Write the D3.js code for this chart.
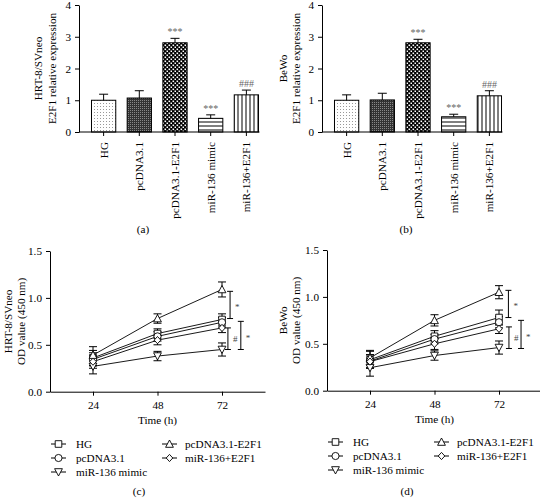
<!DOCTYPE html>
<html><head><meta charset="utf-8">
<script src="https://cdn.jsdelivr.net/npm/d3@7"></script>
<style>
body{margin:0;background:#fff;}
svg{display:block;font-family:"Liberation Serif","Times New Roman",serif;}
</style></head>
<body>
<svg id="chart" width="540" height="498"></svg>
<script>
// ---------- DATA ----------
const barCategories = ["HG","pcDNA3.1","pcDNA3.1-E2F1","miR-136 mimic","miR-136+E2F1"];
const barValuesA = [1.00, 1.07, 2.81, 0.43, 1.17];
const barErrorsA = [0.19, 0.23, 0.14, 0.11, 0.15];
const barSigA    = ["", "", "***", "***", "###"];
const barValuesB = [1.00, 1.01, 2.81, 0.48, 1.14];
const barErrorsB = [0.17, 0.21, 0.11, 0.08, 0.16];
const barSigB    = ["", "", "***", "***", "###"];
const barTicks   = [0,1,2,3,4];

const timePoints = [24, 48, 72];
const seriesNames = ["HG","pcDNA3.1","pcDNA3.1-E2F1","miR-136 mimic","miR-136+E2F1"];
const seriesMarkers = ["square","circle","triangleUp","triangleDown","diamond"];
const odC_HG     = [0.36, 0.62, 0.77];
const odC_pc     = [0.345,0.59, 0.74];
const odC_E2F1   = [0.39, 0.78, 1.09];
const odC_mimic  = [0.27, 0.38, 0.45];
const odC_miR    = [0.32, 0.55, 0.68];
const errC_HG    = [0.08, 0.05, 0.06];
const errC_pc    = [0.07, 0.05, 0.05];
const errC_E2F1  = [0.09, 0.05, 0.08];
const errC_mimic = [0.08, 0.05, 0.07];
const errC_miR   = [0.07, 0.05, 0.05];
const odD_HG     = [0.33, 0.58, 0.78];
const odD_pc     = [0.315,0.55, 0.73];
const odD_E2F1   = [0.35, 0.75, 1.05];
const odD_mimic  = [0.245,0.375,0.46];
const odD_miR    = [0.31, 0.50, 0.66];
const errD_HG    = [0.09, 0.06, 0.08];
const errD_pc    = [0.07, 0.05, 0.06];
const errD_E2F1  = [0.08, 0.06, 0.07];
const errD_mimic = [0.09, 0.05, 0.07];
const errD_miR   = [0.07, 0.06, 0.05];
const odTicks = [0, 0.5, 1.0, 1.5];
// significance brackets: [time position, from value, to value, label]
const bracketsC = [[75, 1.07, 0.78, "*"], [74.2, 0.68, 0.45, "#"], [79, 0.75, 0.45, "*"]];
const bracketsD = [[75.5, 1.07, 0.78, "*"], [75.7, 0.68, 0.45, "#"], [80.2, 0.75, 0.45, "*"]];

// ---------- DRAW ----------
const svg = d3.select("#chart");
const defs = svg.append("defs");
(function(){
  let p = defs.append("pattern").attr("id","pDots").attr("patternUnits","userSpaceOnUse").attr("width",3).attr("height",3);
  p.append("rect").attr("width",3).attr("height",3).attr("fill","#fff");
  p.append("rect").attr("x",1).attr("y",1).attr("width",1).attr("height",1).attr("fill","#999");
  p = defs.append("pattern").attr("id","pDark").attr("patternUnits","userSpaceOnUse").attr("width",2).attr("height",2);
  p.append("rect").attr("width",2).attr("height",2).attr("fill","#333");
  p.append("rect").attr("x",0).attr("y",0).attr("width",1).attr("height",1).attr("fill","#888");
  p = defs.append("pattern").attr("id","pCheck").attr("patternUnits","userSpaceOnUse").attr("width",4).attr("height",4);
  p.append("rect").attr("width",4).attr("height",4).attr("fill","#000");
  p.append("rect").attr("x",0.5).attr("y",0.5).attr("width",1.6).attr("height",1.6).attr("fill","#fff");
  p.append("rect").attr("x",2.5).attr("y",2.5).attr("width",1.6).attr("height",1.6).attr("fill","#fff");
  p = defs.append("pattern").attr("id","pHoriz").attr("patternUnits","userSpaceOnUse").attr("width",4).attr("height",4);
  p.append("rect").attr("width",4).attr("height",4).attr("fill","#fff");
  p.append("rect").attr("y",1.5).attr("width",4).attr("height",1).attr("fill","#000");
  p = defs.append("pattern").attr("id","pVert").attr("patternUnits","userSpaceOnUse").attr("width",4).attr("height",4);
  p.append("rect").attr("width",4).attr("height",4).attr("fill","#fff");
  p.append("rect").attr("x",1.5).attr("width",1).attr("height",4).attr("fill","#000");
})();
const barFills = ["url(#pDots)","url(#pDark)","url(#pCheck)","url(#pHoriz)","url(#pVert)"];
const FS = 11.2;
const FF = "Liberation Serif";

function barPanel(axX, vals, errs, sig, lab1, lab2, lab1x, lab2x, panelLabel, plx){
  const g = svg.append("g");
  const y = d3.scaleLinear().domain([0,4]).range([132,5]);
  const x = d3.scaleBand().domain(barCategories).range([axX, axX+192]).paddingInner(0.32).paddingOuter(0.35);
  g.selectAll("rect.bar").data(barCategories).join("rect")
    .attr("x", d=>x(d)).attr("width", x.bandwidth())
    .attr("y", (d,i)=>y(vals[i])).attr("height", (d,i)=>y(0)-y(vals[i]))
    .attr("fill", (d,i)=>barFills[i]).attr("stroke","#000").attr("stroke-width",1);
  barCategories.forEach((c,i)=>{
    const cx = x(c)+x.bandwidth()/2;
    g.append("line").attr("x1",cx).attr("x2",cx).attr("y1",y(vals[i])).attr("y2",y(vals[i]+errs[i])).attr("stroke","#000");
    g.append("line").attr("x1",cx-4.5).attr("x2",cx+4.5).attr("y1",y(vals[i]+errs[i])).attr("y2",y(vals[i]+errs[i])).attr("stroke","#000");
    if (sig[i]) g.append("text").attr("x",cx).attr("y",y(vals[i]+errs[i])-3).attr("text-anchor","middle")
      .attr("font-size",10).attr("fill","#666").text(sig[i]);
  });
  const ya = g.append("g").attr("transform",`translate(${axX},0)`).call(d3.axisLeft(y).tickValues(barTicks).tickFormat(d3.format("d")).tickSize(4).tickSizeOuter(0).tickPadding(4));
  ya.selectAll("text").attr("font-size",FS).attr("font-family",FF).attr("fill","#000");
  ya.selectAll("line,path").attr("stroke","#000");
  const xa = g.append("g").attr("transform",`translate(0,${y(0)})`).call(d3.axisBottom(x).tickSize(4).tickSizeOuter(0));
  xa.select(".domain").remove();
  xa.selectAll("line").attr("stroke","#000");
  xa.selectAll("text").attr("font-size",FS).attr("font-family",FF).attr("fill","#000")
    .attr("transform","rotate(-90)").attr("text-anchor","end").attr("x",-10).attr("y",0).attr("dy","0.35em");
  const lastEnd = x(barCategories[barCategories.length-1]) + x.bandwidth() + 1;
  g.append("line").attr("x1",axX).attr("x2",lastEnd).attr("y1",y(0)).attr("y2",y(0)).attr("stroke","#000");
  const cy = (y(0)+y(4))/2;
  [[lab1,lab1x],[lab2,lab2x]].forEach(([t,lx])=>{
    g.append("text").attr("transform",`translate(${lx},${cy}) rotate(-90)`).attr("text-anchor","middle")
      .attr("dy","0.35em").attr("font-size",FS).text(t);
  });
  g.append("text").attr("x",plx).attr("y",229).attr("text-anchor","middle").attr("dy","0.35em").attr("font-size",FS).text(panelLabel);
}

barPanel(79, barValuesA, barErrorsA, barSigA, "HRT-8/SVneo", "E2F1 relative expression", 38, 52, "(a)", 143);
barPanel(322, barValuesB, barErrorsB, barSigB, "BeWo", "E2F1 relative expression", 283, 296, "(b)", 406);

function markerPath(type){
  const s = 3.3;
  switch(type){
    case "square": return `M${-s},${-s}H${s}V${s}H${-s}Z`;
    case "circle": return d3.symbol(d3.symbolCircle, 40)();
    case "triangleUp": return `M0,${-s-0.7}L${s+0.6},${s}L${-s-0.6},${s}Z`;
    case "triangleDown": return `M0,${s+0.7}L${s+0.6},${-s}L${-s-0.6},${-s}Z`;
    case "diamond": return `M0,${-s-0.3}L${s},0L0,${s+0.3}L${-s},0Z`;
  }
}

function linePanel(axX, y0, seriesVals, seriesErrs, brackets, lab1, lab2, lab1x, lab2x, panelLabel, plx, legY, col2dx){
  const g = svg.append("g");
  const w = 215;
  const x = d3.scaleLinear().domain([8,88]).range([axX, axX+w]);
  const y = d3.scaleLinear().domain([0,1.5]).range([y0, y0-140.7]);
  const line = d3.line().x((d,i)=>x(timePoints[i])).y(d=>y(d));
  seriesVals.forEach(v=>{
    g.append("path").attr("d",line(v)).attr("fill","none").attr("stroke","#000").attr("stroke-width",0.9);
  });
  seriesVals.forEach((v,k)=>{
    v.forEach((val,i)=>{
      const cx = x(timePoints[i]), e = seriesErrs[k][i];
      g.append("line").attr("x1",cx).attr("x2",cx).attr("y1",y(val-e)).attr("y2",y(val+e)).attr("stroke","#000");
      [val-e,val+e].forEach(ev=>g.append("line").attr("x1",cx-4).attr("x2",cx+4).attr("y1",y(ev)).attr("y2",y(ev)).attr("stroke","#000"));
    });
  });
  seriesVals.forEach((v,k)=>{
    v.forEach((val,i)=>{
      g.append("path").attr("d",markerPath(seriesMarkers[k])).attr("transform",`translate(${x(timePoints[i])},${y(val)})`)
        .attr("fill","#fff").attr("stroke","#000").attr("stroke-width",0.9);
    });
  });
  brackets.forEach(([t,a,b,lab])=>{
    const bx = x(t);
    g.append("line").attr("x1",bx).attr("x2",bx).attr("y1",y(a)).attr("y2",y(b)).attr("stroke","#000");
    [a,b].forEach(v=>g.append("line").attr("x1",bx-3).attr("x2",bx+3).attr("y1",y(v)).attr("y2",y(v)).attr("stroke","#000"));
    g.append("text").attr("x",bx+5).attr("y",(y(a)+y(b))/2).attr("dy",lab==="*"?"0.6em":"0.35em")
      .attr("font-size",9).attr("fill","#444").text(lab);
  });
  const ya = g.append("g").attr("transform",`translate(${axX},0)`).call(d3.axisLeft(y).tickValues(odTicks).tickFormat(d3.format(".1f")).tickSize(4).tickSizeOuter(0).tickPadding(4));
  ya.selectAll("text").attr("font-size",FS).attr("font-family",FF).attr("fill","#000");
  ya.selectAll("line,path").attr("stroke","#000");
  const xa = g.append("g").attr("transform",`translate(0,${y0})`).call(d3.axisBottom(x).tickValues(timePoints).tickSize(4).tickSizeOuter(0).tickPadding(5));
  xa.selectAll("text").attr("font-size",FS).attr("font-family",FF).attr("fill","#000");
  xa.selectAll("line,path").attr("stroke","#000");
  g.append("text").attr("x",x(48)).attr("y",y0+28).attr("text-anchor","middle").attr("dy","0.35em").attr("font-size",FS).text("Time (h)");
  const cy = (y(0)+y(1.5))/2;
  [[lab1,lab1x],[lab2,lab2x]].forEach(([t,lx])=>{
    g.append("text").attr("transform",`translate(${lx},${cy}) rotate(-90)`).attr("text-anchor","middle")
      .attr("dy","0.35em").attr("font-size",FS).text(t);
  });
  const legPos = [[0,0],[1,0],[0,1],[2,0],[1,1]]; // [row, col] per series
  seriesNames.forEach((n,k)=>{
    const [r,c] = legPos[k];
    const lx = axX + 1 + c*col2dx, ly = legY + r*14;
    g.append("line").attr("x1",lx).attr("x2",lx+15).attr("y1",ly).attr("y2",ly).attr("stroke","#000");
    g.append("path").attr("d",markerPath(seriesMarkers[k])).attr("transform",`translate(${lx+7.5},${ly})`)
      .attr("fill","#fff").attr("stroke","#000").attr("stroke-width",0.9);
    g.append("text").attr("x",lx+(c?23:25)).attr("y",ly).attr("dy","0.35em").attr("font-size",FS).text(n);
  });
  g.append("text").attr("x",plx).attr("y",491).attr("text-anchor","middle").attr("dy","0.35em").attr("font-size",FS).text(panelLabel);
}

linePanel(50, 391.7, [odC_HG, odC_pc, odC_E2F1, odC_mimic, odC_miR], [errC_HG, errC_pc, errC_E2F1, errC_mimic, errC_miR],
  bracketsC, "HRT-8/SVneo", "OD value (450 nm)", 8, 21, "(c)", 139, 444, 111);
linePanel(327, 390.7, [odD_HG, odD_pc, odD_E2F1, odD_mimic, odD_miR], [errD_HG, errD_pc, errD_E2F1, errD_mimic, errD_miR],
  bracketsD, "BeWo", "OD value (450 nm)", 283, 296, "(d)", 407, 442, 106);
</script>
</body></html>
